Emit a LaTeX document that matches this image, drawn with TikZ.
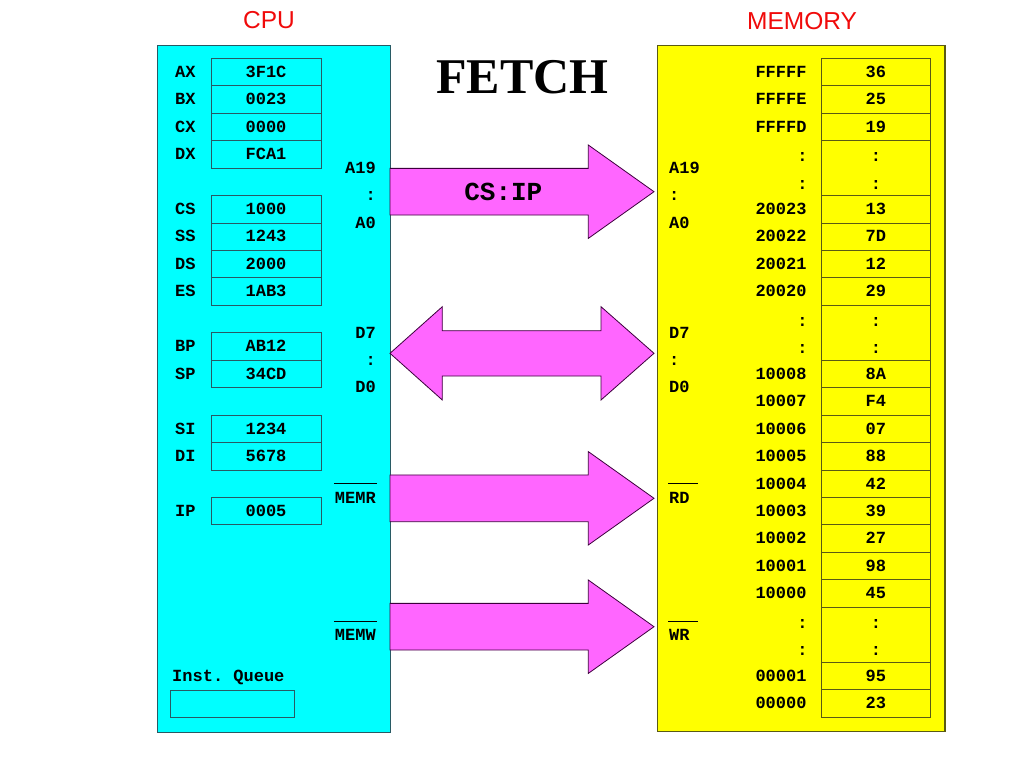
\documentclass[tikz,border=0pt]{standalone}
\usepackage{fontspec}
\setmainfont{Liberation Serif}
\setsansfont{Liberation Sans}
\setmonofont{Liberation Mono}
\usepackage{tikz}
\usetikzlibrary{positioning}

\definecolor{cpucyan}{RGB}{0,255,255}
\definecolor{cpuline}{RGB}{40,90,100}
\definecolor{memyellow}{RGB}{255,255,0}
\definecolor{memline}{RGB}{90,90,20}
\definecolor{buspink}{RGB}{255,102,255}
\definecolor{busline}{RGB}{60,0,60}
\definecolor{titlered}{RGB}{240,10,10}

\tikzset{
    mono/.style={font=\ttfamily\bfseries\fontsize{17}{20}\selectfont, inner sep=1pt, text height=10.5pt, text depth=0pt},
    regbox/.style={mono, draw=cpuline, line width=1pt, minimum width=110pt, minimum height=27.45pt},
    cellbox/.style={mono, draw=memline, line width=1pt, minimum width=109.7pt, minimum height=27.45pt},
    buspath/.style={fill=buspink, draw=busline, line width=0.8pt, line join=miter},
    sigbar/.style={line width=0.8pt},
}

\begin{document}
\begin{tikzpicture}[x=1pt,y=-1pt]
        \useasboundingbox (0,0) rectangle (1024,768);

        % titles
        \node[font=\sffamily\fontsize{24.5}{28}\selectfont, text=titlered] (cputitle) at (269,20.5) {CPU};
        \node[font=\sffamily\fontsize{24.5}{28}\selectfont, text=titlered] (memtitle) at (802,21.3) {MEMORY};
        \node[font=\rmfamily\bfseries\fontsize{50}{56}\selectfont, inner sep=0pt] (fetch) at (522.5,76.7) {FETCH};

        % the two units
        \node[draw=cpuline, fill=cpucyan, line width=1.2pt, inner sep=0pt, minimum width=233.3pt, minimum height=687pt, anchor=north west] (cpu) at (156.7,45) {};
        \node[draw=memline, fill=memyellow, line width=1.2pt, inner sep=0pt, minimum width=287.6pt, minimum height=686pt, anchor=north west] (mem) at (656.7,45) {};

        % registers
        \foreach \reg/\val/\r in {AX/3F1C/0, BX/0023/1, CX/0000/2, DX/FCA1/3,
                CS/1000/5, SS/1243/6, DS/2000/7, ES/1AB3/8,
                BP/AB12/10, SP/34CD/11, SI/1234/13, DI/5678/14, IP/0005/16} {
            \pgfmathsetmacro\yc{58.3+(\r+0.5)*27.45}
            \node[regbox] (\reg-val) at (266,\yc) {\val};
            \node[mono, anchor=west] (\reg) at (174,\yc) {\reg};
        }

        \node[mono, anchor=west] (queue) at (171,676) {Inst. Queue};
        \node[draw=cpuline, line width=1pt, minimum width=124pt, minimum height=27.45pt] (queue-box) at (232,704) {};

        % memory cells
        \foreach \addr/\val/\r in {FFFFF/36/0, FFFFE/25/1, FFFFD/19/2,
                20023/13/5, 20022/7D/6, 20021/12/7, 20020/29/8,
                10008/8A/11, 10007/F4/12, 10006/07/13, 10005/88/14, 10004/42/15,
                10003/39/16, 10002/27/17, 10001/98/18, 10000/45/19,
                00001/95/22, 00000/23/23} {
            \pgfmathsetmacro\yc{58.3+(\r+0.5)*27.45}
            \node[cellbox] (m\addr) at (875.85,\yc) {\val};
            \node[mono, anchor=east] (a\addr) at (807.7,\yc) {\addr};
        }

        % gaps in the memory
        \foreach \r in {3,9,20} {
            \pgfmathsetmacro\yc{58.3+(\r+1)*27.45}
            \node[cellbox, minimum height=54.9pt] (gap\r) at (875.85,\yc) {};
            \foreach \k in {0.5,1.5} {
                \pgfmathsetmacro\yd{58.3+(\r+\k)*27.45}
                \node[mono] at (875.85,\yd+2) {:};
                \node[mono, anchor=east] at (808.7,\yd+2) {:};
            }
        }

        % pin names
        \foreach \pin/\k in {A19/4, :/5, A0/6, D7/10, :/11, D0/12} {
            \pgfmathsetmacro\yc{58.3+\k*27.45}
            \node[mono, anchor=east] at (377,\yc) {\pin};
            \node[mono, anchor=west] at (668,\yc) {\pin};
        }

        \node[mono, anchor=east] (memr) at (377,498) {MEMR};
        \node[mono, anchor=east] (memw) at (377,635.5) {MEMW};
        \node[mono, anchor=west] (rd) at (668,498) {RD};
        \node[mono, anchor=west] (wr) at (668,635.5) {WR};
        \foreach \sig in {memr,memw}
        \draw[sigbar] ([yshift=8pt]\sig.north west) -- ([yshift=8pt]\sig.north east);
        \foreach \sig in {rd,wr}
        \draw[sigbar] ([yshift=8pt]\sig.north west) -- ([xshift=7pt,yshift=8pt]\sig.north east);

        % buses
        \foreach \yc in {191.7,498.3,626.7}
        \draw[buspath] (390,\yc-23.35) -- (588.3,\yc-23.35) -- (588.3,\yc-46.7) -- (654,\yc)
            -- (588.3,\yc+46.7) -- (588.3,\yc+23.35) -- (390,\yc+23.35) -- cycle;

        \draw[buspath] (390,353.3) -- (442.3,306.7) -- (442.3,330.7) -- (601,330.7) -- (601,306.7) -- (654,353.3)
            -- (601,400) -- (601,376) -- (442.3,376) -- (442.3,400) -- cycle;

        \node[mono, font=\ttfamily\bfseries\fontsize{26}{30}\selectfont, text height=15pt] (csip) at (503.3,192.5) {CS:IP};
    \end{tikzpicture}
\end{document}
